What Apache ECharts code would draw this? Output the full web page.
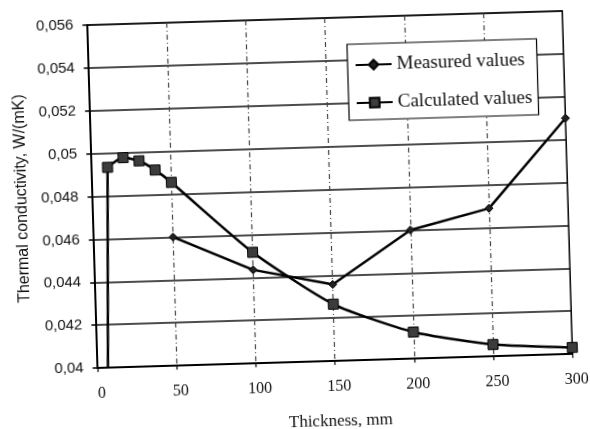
<!DOCTYPE html>
<html><head><meta charset="utf-8">
<script src="https://cdn.jsdelivr.net/npm/echarts@6/dist/echarts.min.js"></script>
<style>
html,body{margin:0;padding:0;background:#fff;overflow:hidden}
#chart{width:590px;height:429px;transform:rotate(-1.7deg);transform-origin:295px 214.5px}
</style>
</head><body><div id="chart"></div>
<script>
// Tick labels
const xTicks = [0, 50, 100, 150, 200, 250, 300];
const xTickLabels = ['0', '50', '100', '150', '200', '250', '300'];
const yTicks = [0.040, 0.042, 0.044, 0.046, 0.048, 0.050, 0.052, 0.054, 0.056];
const yTickLabels = ['0,04', '0,042', '0,044', '0,046', '0,048', '0,05', '0,052', '0,054', '0,056'];

// Series: Measured values
const measuredX = [50, 100, 150, 200, 250, 300];
const measuredY = [0.0460, 0.04436, 0.04357, 0.0460, 0.0469, 0.0510];

// Series: Calculated values (first point is the drop from the axis floor)
const calculatedX = [6.5, 10, 20, 30, 40, 50, 100, 150, 200, 250, 300];
const calculatedY = [0.040, 0.04934, 0.04977, 0.0496, 0.04915, 0.04855, 0.04518, 0.04265, 0.04124, 0.04055, 0.0403];

const seriesNames = ['Measured values', 'Calculated values'];
const xName = 'Thickness, mm';
const yName = 'Thermal conductivity, W/(mK)';

const measuredData = measuredX.map((x, i) => [x, measuredY[i]]);
const calcAll = calculatedX.map((x, i) => [x, calculatedY[i]]);
const calcMain = calcAll.slice(1);
const calcDrop = calcAll.slice(0, 2);

function yLabel(v) {
  let best = 0, bd = Infinity;
  yTicks.forEach((t, i) => { const d = Math.abs(t - v); if (d < bd) { bd = d; best = i; } });
  return yTickLabels[best];
}
function xLabel(v) {
  const i = xTicks.indexOf(Math.round(v));
  return i >= 0 ? xTickLabels[i] : '';
}

const chart = echarts.init(document.getElementById('chart'), null, {renderer: 'canvas'});
chart.setOption({
  backgroundColor: '#fff',
  animation: false,
  grid: {
    left: 93.2, right: 21.8, top: 19, bottom: 66.9,
    containLabel: false, outerBoundsMode: 'none',
    show: true, borderColor: '#000', borderWidth: 1.5, backgroundColor: 'transparent'
  },
  legend: {
    data: seriesNames,
    orient: 'vertical',
    left: 352, top: 46,
    padding: [10, 6, 6, 7],
    itemGap: 16,
    itemWidth: 36,
    itemHeight: 12,
    backgroundColor: '#fff',
    borderColor: '#000',
    borderWidth: 1.2,
    borderRadius: 0,
    textStyle: {fontFamily: 'Liberation Serif', fontSize: 19, color: '#111', lineHeight: 22}
  },
  xAxis: {
    type: 'value', min: 0, max: 300, interval: 50,
    name: xName, nameLocation: 'middle', nameGap: 52,
    nameTextStyle: {fontFamily: 'Liberation Serif', fontSize: 17, color: '#111', padding: [0, 0, 0, 8]},
    axisLine: {show: true, onZero: false, lineStyle: {color: '#000', width: 2}},
    axisTick: {show: true, length: 4, lineStyle: {color: '#000', width: 1.2}},
    axisLabel: {formatter: xLabel, margin: 18, fontFamily: 'Liberation Serif', fontSize: 16, color: '#111', padding: [0, 0, 0, 7]},
    splitLine: {show: true, showMinLine: false, showMaxLine: false, lineStyle: {color: '#444', width: 1.2, type: [5, 3, 1, 3]}}
  },
  yAxis: {
    type: 'value', min: 0.040, max: 0.056, interval: 0.002,
    name: yName, nameLocation: 'middle', nameGap: 45,
    nameTextStyle: {fontFamily: 'Liberation Sans', fontSize: 16, color: '#111'},
    axisLine: {show: true, lineStyle: {color: '#000', width: 2}},
    axisTick: {show: true, length: 5, lineStyle: {color: '#000', width: 1.5}},
    axisLabel: {formatter: yLabel, margin: 14, fontFamily: 'Liberation Sans', fontSize: 15, color: '#111'},
    splitLine: {show: true, lineStyle: {color: '#111', width: 1.5}}
  },
  series: [
    {
      name: seriesNames[0], type: 'line', data: measuredData,
      symbol: 'diamond', symbolSize: 8,
      lineStyle: {color: '#000', width: 2.5},
      itemStyle: {color: '#222', borderColor: '#000', borderWidth: 1}
    },
    {
      name: seriesNames[1], type: 'line', data: calcMain, smooth: 0.2,
      symbol: 'rect', symbolSize: 10,
      lineStyle: {color: '#000', width: 2.5},
      itemStyle: {color: '#3c3c3c', borderColor: '#000', borderWidth: 1}
    },
    {
      name: 'drop', type: 'line', data: calcDrop, symbol: 'none', z: 1,
      lineStyle: {color: '#000', width: 2.5}
    }
  ]
});
</script>
</body></html>
